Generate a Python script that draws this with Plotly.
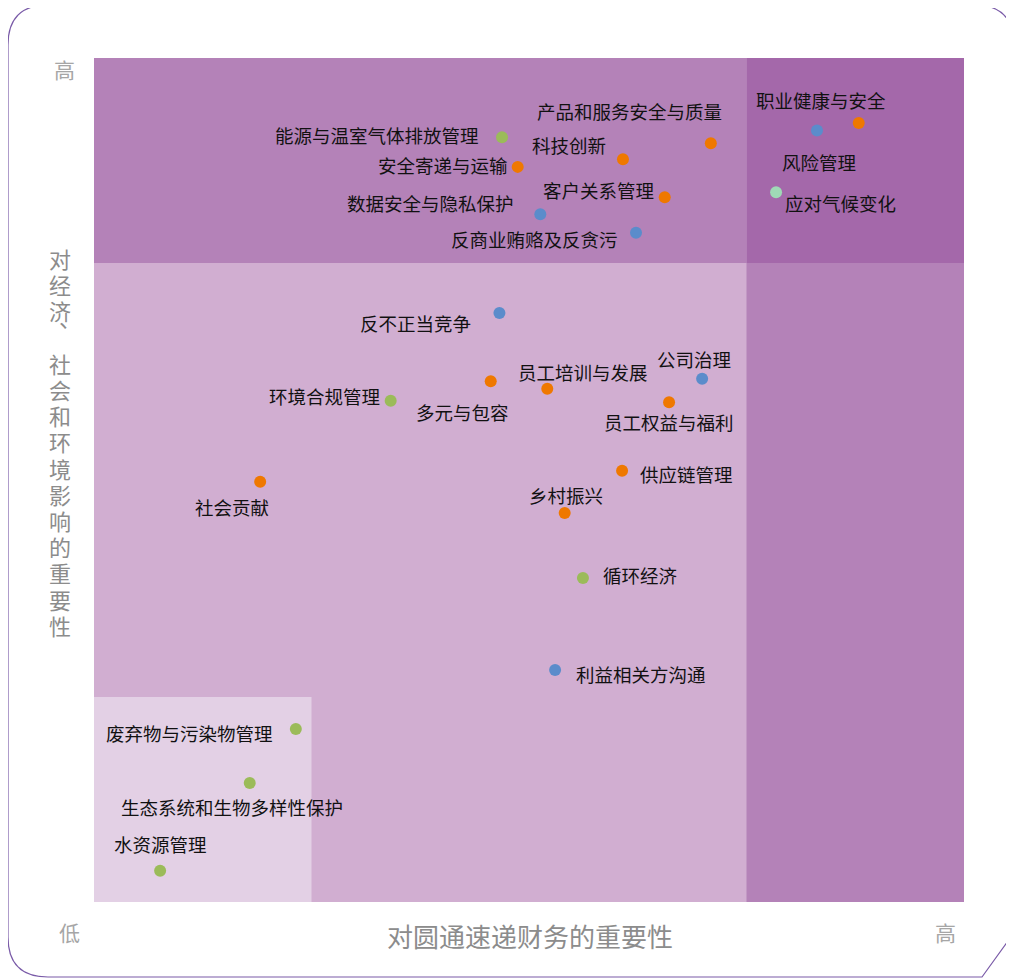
import plotly.graph_objects as go

# ---------------- data ----------------
topics = ["职业健康与安全", "风险管理", "应对气候变化", "产品和服务安全与质量", "科技创新",
          "能源与温室气体排放管理", "安全寄递与运输", "客户关系管理", "数据安全与隐私保护",
          "反商业贿赂及反贪污", "反不正当竞争", "公司治理", "员工培训与发展", "多元与包容",
          "环境合规管理", "员工权益与福利", "供应链管理", "乡村振兴", "社会贡献", "循环经济",
          "利益相关方沟通", "废弃物与污染物管理", "生态系统和生物多样性保护", "水资源管理"]
financial = [8.79, 8.31, 7.84, 7.09, 6.08, 4.69, 4.87, 6.56, 5.13, 6.23, 4.66, 6.99,
             5.21, 4.56, 3.41, 6.61, 6.07, 5.41, 1.91, 5.62, 5.30, 2.32, 1.79, 0.76]
impact = [9.23, 9.14, 8.41, 8.99, 8.80, 9.06, 8.71, 8.35, 8.15, 7.93, 6.98, 6.20,
          6.08, 6.17, 5.94, 5.92, 5.11, 4.61, 4.98, 3.84, 2.75, 2.05, 1.41, 0.37]
category = ["社会", "治理", "气候", "社会", "社会", "环境", "社会", "社会", "治理",
            "治理", "治理", "治理", "社会", "社会", "环境", "社会", "社会", "社会",
            "社会", "环境", "治理", "环境", "环境", "环境"]
# label offsets in pixels (dx right, dy up)
label_dx = [-38, 2, 64, -81, -54, -125, -75, -66, -110, -102, -84, -8, 36, -28, -66, 0, 64, 1, -28, 58, 86, -106, -18, 0]
label_dy = [23, -31, -11, 32, 14, 2, 2, 7, 11, -6, -10, 20, 17, -31, 5, -20, -3, 18, -25, 3, -4, -4, -24, 27]

cat_colors = {"社会": "#EF7800", "治理": "#5B8CCB", "环境": "#9BBB59", "气候": "#9FD9B6"}

x_title = "对圆通速递财务的重要性"
y_title = "对经济、社会和环境影响的重要性"
low_label, high_label = "低", "高"

# zone boundaries
x_lo, x_hi = 2.5, 7.5
y_lo, y_hi = 2.43, 7.57

# ---------------- figure ----------------
BODY = 8                       # default page margin of the html body
W, H = 1014 - BODY, 979 - BODY
ML, MR, MT, MB = 94 - BODY, 50, 58 - BODY, 77
PW, PH = W - ML - MR, H - MT - MB

def px(x):
    """page pixel x -> paper"""
    return (x - BODY - ML) / PW

def py(y):
    """page pixel y -> paper"""
    return (H + BODY - MB - y) / PH

fig = go.Figure()

for cat, col in cat_colors.items():
    idx = [i for i, c in enumerate(category) if c == cat]
    fig.add_trace(go.Scatter(
        x=[financial[i] for i in idx], y=[impact[i] for i in idx],
        mode="markers", marker=dict(size=12, color=col, line=dict(width=0)),
        text=[topics[i] for i in idx], hoverinfo="text", showlegend=False))

FONT = "Noto Sans CJK SC"
for i, t in enumerate(topics):
    fig.add_annotation(x=financial[i], y=impact[i], text=t, showarrow=False,
                       xanchor="center", yanchor="middle",
                       xshift=label_dx[i], yshift=label_dy[i],
                       font=dict(family=FONT, size=18.5, color="#111111"))

# background zones
zones = [
    (0, 10, 0, 10, "#D1AED1"),
    (0, x_lo, 0, y_lo, "#E3D0E5"),
    (0, x_hi, y_hi, 10, "#B482B8"),
    (x_hi, 10, 0, y_hi, "#B482B8"),
    (x_hi, 10, y_hi, 10, "#A468AA"),
]
for x0, x1, y0, y1, c in zones:
    fig.add_shape(type="rect", x0=x0, x1=x1, y0=y0, y1=y1, xref="x", yref="y",
                  fillcolor=c, line=dict(width=0), layer="below")

# outer frame
pts = [
    ("M", 48, 5), ("L", 975, 5), ("Q", 1012, 5, 1014, 42), ("L", 1016, 930),
    ("L", 982, 977), ("L", 48, 977), ("Q", 8, 977, 8, 937), ("L", 8, 45),
    ("Q", 8, 5, 48, 5),
]
path = ""
for p in pts:
    cmd = p[0]
    coords = p[1:]
    seg = cmd
    for k in range(0, len(coords), 2):
        seg += f" {px(coords[k]):.5f},{py(coords[k+1]):.5f}"
    path += seg + " "
fig.add_shape(type="path", path=path.strip(), xref="paper", yref="paper",
              line=dict(color="#7A5BA8", width=1.2), fillcolor="rgba(0,0,0,0)", layer="below")

gray = "#8C8C8C"

def paper_text(x, y, text, size, color, xshift=0):
    fig.add_annotation(x=px(x), y=py(y), xref="paper", yref="paper", text=text,
                       xanchor="center", yanchor="middle", xshift=xshift,
                       showarrow=False, font=dict(family=FONT, size=size, color=color))

paper_text(530, 935, x_title, 26, gray)
paper_text(69, 932, low_label, 21, "#A6A6A6")
paper_text(945, 932, high_label, 21, "#A6A6A6")
paper_text(64, 69, high_label, 21, "#A6A6A6")

# vertical y title, one character per row
for k, ch in enumerate(y_title):
    yc = 258 + k * 26.2
    xs = 0
    if ch == "、":
        xs = 10
        yc -= 20
    paper_text(60, yc, ch, 22, gray, xshift=xs)

fig.update_xaxes(range=[0, 10], visible=False, fixedrange=True)
fig.update_yaxes(range=[0, 10], visible=False, fixedrange=True)
fig.update_layout(width=W, height=H, margin=dict(l=ML, r=MR, t=MT, b=MB),
                  paper_bgcolor="white", plot_bgcolor="#D1AED1", showlegend=False)

fig.write_html("out.html")
